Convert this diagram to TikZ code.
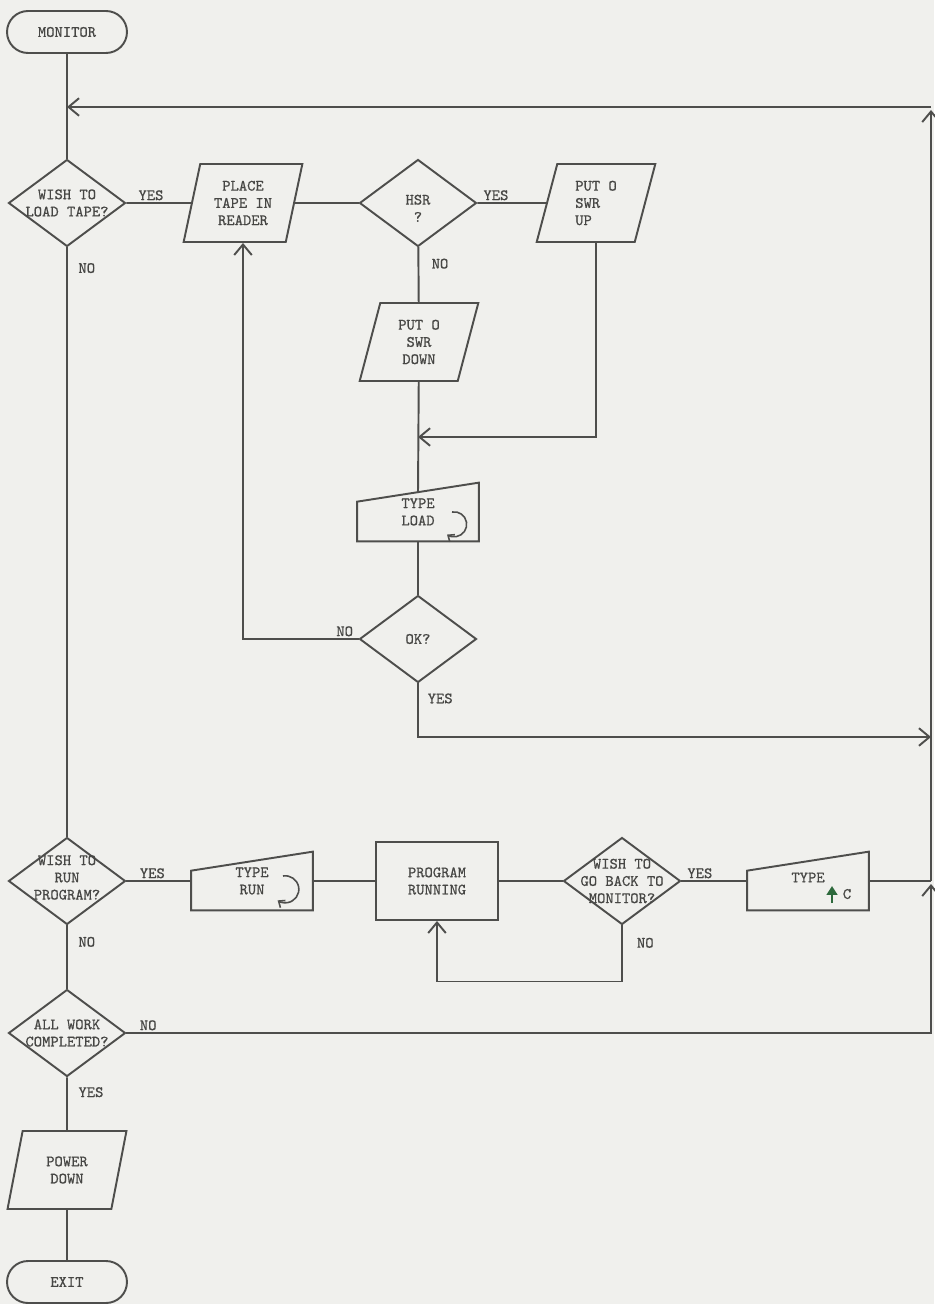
\documentclass[tikz,border=0pt]{standalone}
\usepackage{fontspec}
\setmonofont{lmmono10-regular.otf}[FakeBold=0.7]
\usepackage{xcolor}
\usepackage{tikz}
\usetikzlibrary{arrows.meta,positioning,calc,shapes.geometric}
\definecolor{paper}{RGB}{240,240,237}
\definecolor{ink}{RGB}{78,78,76}
\definecolor{typeink}{RGB}{70,70,68}
\definecolor{upgreen}{RGB}{45,105,60}
\tikzset{every node/.style={font=\ttfamily\fontsize{9}{9.8}\selectfont,text=typeink},
  flow/.style={draw=ink,line width=1.1pt},
  dec/.style={diamond,flow,minimum width=2.34cm,minimum height=1.74cm,inner sep=0pt},
  io/.style={trapezium,trapezium left angle=76,trapezium right angle=104,trapezium stretches=true,
    flow,minimum width=2.38cm,minimum height=1.56cm,inner sep=1pt,align=center},
  proc/.style={rectangle,flow,minimum width=2.44cm,minimum height=1.56cm,align=center},
  term/.style={rectangle,rounded corners=0.42cm,flow,minimum width=2.4cm,minimum height=0.84cm},
  manin/.style={rectangle,minimum width=2.42cm,minimum height=1.16cm,inner sep=0pt,align=center},
  lbl/.style={inner sep=1pt,align=center}}

\begin{document}
\begin{tikzpicture}[x=0.02cm,y=-0.02cm,>={Straight Barb[length=6pt,width=10pt]}]
\fill[paper] (0,0) rectangle (934,1304);
\useasboundingbox (0,0) rectangle (934,1304);

    % left column
    \node[term] (mon) at (67,32) {MONITOR};
    \node[dec,label={[lbl]center:{WISH TO\\LOAD TAPE?}}] (wlt) at (67,203) {};
    \node[dec,label={[lbl,yshift=2pt]center:{WISH TO\\RUN\\PROGRAM?}}] (wrp) at (67,881) {};
    \node[dec,label={[lbl]center:{ALL WORK\\COMPLETED?}}] (awc) at (67,1033) {};
    \node[io] (pwd) at (67,1170) {POWER\\DOWN};
    \node[term] (ext) at (67,1282) {EXIT};

    % tape loading
    \node[io] (ptr) at (243,203) {PLACE\\TAPE IN\\READER};
    \node[dec,label={[lbl,yshift=-3pt]center:{HSR\\?}}] (hsr) at (418,203) {};
    \node[io,align=left] (pup) at (596,203) {PUT O\\SWR\\UP};
    \node[io] (pdn) at (419,342) {PUT O\\SWR\\DOWN};
    \node[manin] (tl) at (418,512) {TYPE\\LOAD};
    \node[dec,label=center:OK?] (ok) at (418,639) {};

    % running
    \node[manin] (tr) at (252,881) {TYPE\\RUN};
    \node[proc] (pr) at (437,881) {PROGRAM\\RUNNING};
    \node[dec,label={[lbl]center:{WISH TO\\GO BACK TO\\MONITOR?}}] (wgb) at (622,881) {};
    \node[manin,label={[lbl,yshift=2pt]center:TYPE}] (tc) at (808,881) {};
    \node[lbl] (tcu) at ($(tc)+(39,13)$) {C};
    \draw[upgreen,line width=1.4pt,-{Triangle[length=5pt,width=6pt]}] ($(tc)+(24,22)$) -- ($(tc)+(24,5)$);

    \draw[flow] (tl.south west) -- (tl.south east) -- (tl.north east) -- ($(tl.north west)+(0,19)$) -- cycle;
    \draw[flow] (tr.south west) -- (tr.south east) -- (tr.north east) -- ($(tr.north west)+(0,19)$) -- cycle;
    \draw[flow] (tc.south west) -- (tc.south east) -- (tc.north east) -- ($(tc.north west)+(0,19)$) -- cycle;
    \draw[flow,line width=0.9pt,-{Straight Barb[length=3pt,width=5pt]}] ($(tl)+(34,0)$) arc[start angle=100,end angle=-125,radius=0.25cm];
    \draw[flow,line width=0.9pt,-{Straight Barb[length=3pt,width=5pt]}] ($(tr)+(31,-5)$) arc[start angle=100,end angle=-125,radius=0.27cm];

    \coordinate (j1) at (67,107);
    \coordinate (j2) at (418,437);
    \coordinate (rt) at (931,107);
    \coordinate (rj) at (931,737);
    \coordinate (rm) at (931,881);
    \coordinate (rb) at (931,1033);

    \draw[flow] (mon) -- (wlt);
    \draw[flow,->] (rt) -- (j1);
    \draw[flow] (wlt) -- node[lbl,above,pos=0.38] {YES} (ptr);
    \draw[flow] (ptr) -- (hsr);
    \draw[flow] (hsr) -- node[lbl,above,pos=0.27] {YES} (pup);
    \draw[flow] (hsr) -- node[lbl,right=6pt,pos=0.3] {NO} (pdn);
    \draw[flow,->] (pup.south) |- (j2);
    \draw[flow] (pdn) -- ($(tl.north)+(0,10)$);
    \draw[flow] (tl) -- (ok);
    \draw[flow,->] (ok.west) -| node[lbl,above,pos=0.06] {NO} (ptr.south);
    \draw[flow,->] (ok.south) |- node[lbl,right=4pt,pos=0.14] {YES} (rj);

    \draw[flow] (wlt) -- node[lbl,right=5pt,pos=0.035] {NO} (wrp);
    \draw[flow] (wrp) -- node[lbl,above,pos=0.4] {YES} (tr);
    \draw[flow] (tr) -- (pr);
    \draw[flow] (pr) -- (wgb);
    \draw[flow] (wgb) -- node[lbl,above,pos=0.28] {YES} (tc);
    \draw[flow] (tc) -- (rm);
    \draw[flow,->] (wgb.south) -- node[lbl,right=7pt,pos=0.31] {NO} ++(0,56) -| (pr.south);
    \draw[flow,->] (rm) -- ($(rt)+(0,3)$);

    \draw[flow] (wrp) -- node[lbl,right=5pt,pos=0.26] {NO} (awc);
    \draw[flow,->] (awc.east) -- node[lbl,above,pos=0.027] {NO} (rb) -- ($(rm)+(0,3)$);
    \draw[flow] (awc) -- node[lbl,right=5pt,pos=0.28] {YES} (pwd);
    \draw[flow] (pwd) -- (ext);
\end{tikzpicture}
\end{document}
